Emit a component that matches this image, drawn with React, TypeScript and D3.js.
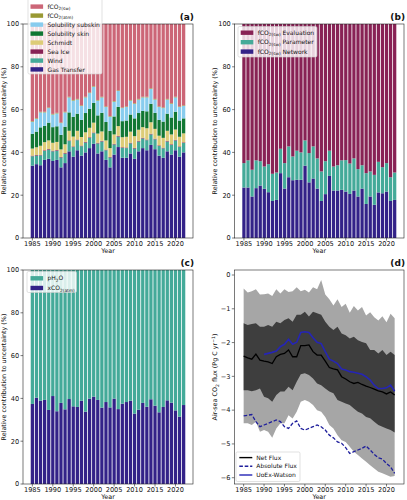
import React from "react";
import * as d3 from "d3";

// ---------- categories ----------
const years = [1985,1986,1987,1988,1989,1990,1991,1992,1993,1994,1995,1996,1997,1998,1999,2000,2001,2002,2003,2004,2005,2006,2007,2008,2009,2010,2011,2012,2013,2014,2015,2016,2017,2018,2019,2020,2021,2022];
const uoexYears = [1990,1991,1992,1993,1994,1995,1996,1997,1998,1999,2000,2001,2002,2003,2004,2005,2006,2007,2008,2009,2010,2011,2012,2013,2014,2015,2016,2017,2018,2019,2020,2021,2022];
const xTicks = [1985,1990,1995,2000,2005,2010,2015,2020];
const pctTicks = [0,20,40,60,80,100];
const fluxTicks = [0,-1,-2,-3,-4,-5,-6];

// ---------- panel (a) ----------
const gasTransfer = [33.8,34.5,34.0,36.5,37.0,36.0,36.5,33.0,35.0,40.5,38.0,41.0,38.5,40.0,42.0,44.0,39.5,40.5,36.5,33.0,39.0,42.5,37.5,37.5,39.5,37.0,40.5,42.0,41.0,43.5,41.5,38.5,37.5,40.5,39.0,41.0,38.0,40.0];
const wind = [4.4,4.0,4.6,4.2,4.3,4.5,4.3,4.6,4.4,4.8,4.5,4.7,4.4,4.6,4.8,5.0,4.7,4.6,4.5,4.6,4.7,4.9,4.6,4.5,4.7,4.8,4.6,4.5,4.7,4.9,4.6,4.5,4.4,4.6,4.5,4.6,4.5,4.4];
const seaIce = [0.3,0.3,0.3,0.3,0.3,0.3,0.3,0.3,0.3,0.3,0.3,0.3,0.3,0.3,0.3,0.3,0.3,0.3,0.3,0.3,0.3,0.3,0.3,0.3,0.3,0.3,0.3,0.3,0.3,0.3,0.3,0.3,0.3,0.3,0.3,0.3,0.3,0.3];
const schmidt = [3.3,3.6,4.2,3.8,4.0,3.7,3.8,3.5,4.1,4.5,4.6,4.1,4.0,4.5,4.4,4.6,4.3,4.4,4.3,4.1,4.4,4.6,4.7,5.0,5.2,5.5,5.2,5.0,5.3,5.4,4.6,4.5,4.6,4.7,4.6,4.8,4.5,4.2];
const solSkin = [6.9,7.3,8.6,7.6,8.3,7.3,7.3,6.8,8.2,8.6,9.2,8.0,8.0,9.0,8.9,9.2,8.5,8.7,8.6,8.1,8.4,9.0,7.5,7.6,8.0,8.3,7.8,7.6,7.9,8.6,7.5,7.4,7.6,8.0,7.9,8.3,7.6,7.0];
const solSubskin = [5.6,6.0,7.0,6.3,6.8,5.9,6.0,5.5,6.7,7.0,7.6,6.6,6.5,7.3,7.3,7.6,6.9,7.2,7.0,6.6,6.9,7.4,6.1,6.3,6.5,6.8,6.3,6.3,6.5,7.0,6.2,6.0,6.3,6.6,6.4,6.7,6.3,5.8];
const fco2Atm = [0.3,0.3,0.3,0.3,0.3,0.3,0.3,0.3,0.3,0.3,0.3,0.3,0.3,0.3,0.3,0.3,0.3,0.3,0.3,0.3,0.3,0.3,0.3,0.3,0.3,0.3,0.3,0.3,0.3,0.3,0.3,0.3,0.3,0.3,0.3,0.3,0.3,0.3];
const fco2Sw = [45.4,44.0,41.0,41.0,39.0,42.0,41.5,46.0,41.0,34.0,35.5,35.0,38.0,34.0,32.0,29.0,35.5,34.0,38.5,43.0,36.0,31.0,39.0,38.5,35.5,37.0,35.0,34.0,34.0,30.0,35.0,38.5,39.0,35.0,37.0,34.0,38.5,38.0];

// ---------- panel (b) ----------
const network = [23.6,23.6,19.4,23.3,24.5,23.0,21.4,17.3,17.8,30.3,23.1,28.4,27.0,27.2,27.2,33.8,26.0,27.8,23.1,17.3,20.5,29.0,22.2,22.2,22.5,21.7,20.6,22.2,19.4,23.1,15.9,19.4,15.5,21.3,20.9,21.7,17.3,17.8];
const parameter = [11.4,12.7,12.5,13.0,11.4,10.4,13.1,12.7,12.8,11.4,11.9,14.4,11.1,13.6,12.8,11.8,13.7,15.0,14.1,13.8,15.4,11.8,11.2,11.8,13.8,14.7,14.2,15.0,12.8,10.9,14.4,11.7,14.0,14.3,12.2,13.3,11.1,12.8];
const evaluation = [65.0,63.7,68.1,63.7,64.1,66.6,65.5,70.0,69.4,58.3,65.0,57.2,61.9,59.2,60.0,54.4,60.3,57.2,62.8,68.9,64.1,59.2,66.6,66.0,63.7,63.6,65.2,62.8,67.8,66.0,69.7,68.9,70.5,64.4,66.9,65.0,71.6,69.4];

// ---------- panel (c) ----------
const xco2Atm = [37.4,40.3,38.9,39.3,34.6,41.1,34.0,37.9,34.9,39.7,36.3,36.0,38.9,33.8,39.9,40.8,39.3,35.7,38.3,35.8,39.9,35.0,37.5,38.3,38.9,32.9,34.7,37.9,36.1,39.6,36.6,33.5,36.0,39.1,38.0,34.4,31.5,36.9];
const ph2o = [62.6,59.7,61.1,60.7,65.4,58.9,66.0,62.1,65.1,60.3,63.7,64.0,61.1,66.2,60.1,59.2,60.7,64.3,61.7,64.2,60.1,65.0,62.5,61.7,61.1,67.1,65.3,62.1,63.9,60.4,63.4,66.5,64.0,60.9,62.0,65.6,68.5,63.1];

// ---------- panel (d) ----------
const netFlux = [-2.40,-2.45,-2.49,-2.34,-2.52,-2.55,-2.57,-2.62,-2.42,-2.35,-2.32,-2.22,-2.42,-2.42,-2.09,-2.09,-2.07,-2.27,-2.37,-2.37,-2.55,-2.74,-2.78,-2.81,-3.01,-3.08,-3.16,-3.21,-3.18,-3.24,-3.29,-3.33,-3.38,-3.43,-3.46,-3.52,-3.46,-3.55];
const absoluteFlux = [-4.17,-4.15,-4.13,-4.34,-4.49,-4.44,-4.39,-4.34,-4.29,-4.34,-4.49,-4.54,-4.39,-4.32,-4.54,-4.59,-4.54,-4.49,-4.44,-4.49,-4.59,-4.74,-4.82,-4.94,-4.98,-5.11,-5.28,-5.23,-5.18,-5.13,-5.06,-5.18,-5.31,-5.41,-5.45,-5.58,-5.68,-5.87];
const uoexWatson = [-2.35,-2.32,-2.29,-2.25,-2.12,-2.05,-1.90,-2.05,-1.99,-1.70,-1.68,-1.70,-1.86,-1.99,-2.03,-2.27,-2.49,-2.55,-2.62,-2.78,-2.81,-2.86,-2.88,-2.91,-2.94,-3.01,-3.11,-3.26,-3.36,-3.36,-3.34,-3.26,-3.44];
const outerUpper = [-0.40,-0.52,-0.48,-0.42,-0.58,-0.57,-0.55,-0.62,-0.42,-0.55,-0.42,-0.50,-0.48,-0.36,-0.48,-0.44,-0.52,-0.36,-0.42,-0.15,-0.58,-0.72,-0.90,-0.72,-0.95,-0.85,-1.12,-0.92,-1.05,-0.95,-1.20,-1.10,-1.25,-1.35,-1.22,-1.40,-1.15,-1.28];
const innerUpper = [-1.43,-1.48,-1.45,-1.43,-1.53,-1.53,-1.48,-1.53,-1.38,-1.43,-1.33,-1.28,-1.38,-1.18,-1.18,-1.09,-1.23,-1.09,-1.13,-1.18,-1.38,-1.53,-1.63,-1.53,-1.73,-1.78,-1.88,-1.83,-1.93,-1.98,-2.02,-2.22,-2.22,-2.32,-2.22,-2.37,-2.27,-2.37];
const innerLower = [-3.41,-3.41,-3.44,-3.41,-3.36,-3.60,-3.65,-3.75,-3.55,-3.45,-3.45,-3.31,-3.41,-3.16,-2.94,-2.91,-2.96,-3.06,-3.21,-3.26,-3.36,-3.45,-3.50,-3.70,-3.75,-3.80,-3.85,-3.95,-4.05,-4.10,-4.20,-4.24,-4.34,-4.44,-4.49,-4.54,-4.59,-4.66];
const outerLower = [-4.39,-4.39,-4.44,-4.34,-4.64,-4.59,-4.64,-4.82,-4.54,-4.39,-4.39,-4.15,-4.25,-4.05,-3.75,-3.70,-3.75,-3.85,-4.00,-4.05,-4.20,-4.44,-4.54,-4.74,-4.89,-4.94,-5.08,-5.23,-5.33,-5.43,-5.53,-5.63,-5.73,-5.82,-5.87,-5.92,-5.97,-5.95];

// ---------- styling ----------
const FONT = "DejaVu Sans, sans-serif";
const C = {
  indigo: "#332288", teal: "#44aa99", wine: "#882255", sand: "#ddcc77",
  green: "#117733", cyan: "#88ccee", olive: "#999933", rose: "#cc6677",
};
const TICK_FS = 6.6, LABEL_FS = 6.4, LEG_FS = 6.0;

const Sub = ({ base, sub, after, fs = LEG_FS }: any) => (
  <>
    {base}
    <tspan dy={fs * 0.28} fontSize={fs * 0.72}>{sub}</tspan>
    {after != null && <tspan dy={-fs * 0.28}>{after}</tspan>}
  </>
);

function Frame({ L, R, T, B, x, y, yTicks, yFmt, ylabel, title }: any) {
  const cy = (T + B) / 2;
  return (
    <g>
      <rect x={L} y={T} width={R - L} height={B - T} fill="none" stroke="#222" strokeWidth={0.6} />
      {xTicks.map((t) => (
        <g key={"x" + t}>
          <line x1={x(t)} x2={x(t)} y1={B} y2={B + 2.5} stroke="#222" strokeWidth={0.6} />
          <text x={x(t)} y={B + 8.3} fontSize={TICK_FS} textAnchor="middle" fill="#111">{t}</text>
        </g>
      ))}
      {yTicks.map((t: number) => (
        <g key={"y" + t}>
          <line x1={L - 2.5} x2={L} y1={y(t)} y2={y(t)} stroke="#222" strokeWidth={0.6} />
          <text x={L - 3.8} y={y(t) + 2.3} fontSize={TICK_FS} textAnchor="end" fill="#111">{yFmt(t)}</text>
        </g>
      ))}
      <text x={(L + R) / 2} y={B + 15} fontSize={LABEL_FS} textAnchor="middle" fill="#111">Year</text>
      <text transform={`translate(${L - 17.3},${cy}) rotate(-90)`} fontSize={LABEL_FS} textAnchor="middle" fill="#111">{ylabel}</text>
      <text x={R + 1} y={T - 4.3} fontSize={9} fontWeight="bold" textAnchor="end" fill="#111">{title}</text>
    </g>
  );
}

function Legend({ x0, y0, w, h, items, rowY, hx }: any) {
  return (
    <g>
      <rect x={x0} y={y0} width={w} height={h} rx={1.5} fill="white" fillOpacity={0.8} stroke="#cccccc" strokeWidth={0.6} />
      {items.map((it: any, i: number) => (
        <g key={i}>
          {it.type === "line" ? (
            <line x1={hx} x2={hx + 13} y1={rowY[i]} y2={rowY[i]} stroke={it.color} strokeWidth={it.width || 1.4} strokeDasharray={it.dash || null} />
          ) : (
            <rect x={hx} y={rowY[i] - 2.2} width={12.6} height={4.4} fill={it.color} />
          )}
          <text x={hx + 17} y={rowY[i] + 2.1} fontSize={LEG_FS} fill="#111">{it.label}</text>
        </g>
      ))}
    </g>
  );
}

function StackBars({ x, y, keys, columns, colors }: any) {
  const table = years.map((yr, i) => {
    const row: any = { year: yr };
    keys.forEach((k: string, j: number) => (row[k] = columns[j][i]));
    return row;
  });
  const series = d3.stack().keys(keys)(table);
  return (
    <g>
      {series.map((s: any, j: number) => (
        <g key={keys[j]} fill={colors[j]}>
          {s.map((d: any, i: number) => {
            const yr = years[i];
            const y0 = y(Math.min(d[1], 100));
            const y1 = y(d[0]);
            return <rect key={i} x={x(yr - 0.4)} width={x(yr + 0.4) - x(yr - 0.4)} y={y0} height={Math.max(0, y1 - y0)} />;
          })}
        </g>
      ))}
    </g>
  );
}

export default function App() {
  const XD = [1982.71, 2024.29];
  // panel (a)
  const aL = 23, aR = 193, aT = 24, aB = 238;
  const xa = d3.scaleLinear().domain(XD).range([aL, aR]);
  const ya = d3.scaleLinear().domain([0, 100]).range([aB, aT]);
  // panel (b)
  const bL = 234.6, bR = 404, bT = 24, bB = 238;
  const xb = d3.scaleLinear().domain(XD).range([bL, bR]);
  const yb = d3.scaleLinear().domain([0, 100]).range([bB, bT]);
  // panel (c)
  const cL = 23, cR = 193, cT = 270, cB = 484;
  const xc = d3.scaleLinear().domain(XD).range([cL, cR]);
  const yc = d3.scaleLinear().domain([0, 100]).range([cB, cT]);
  // panel (d)
  const dL = 234.3, dR = 404, dT = 270, dB = 484;
  const xd = d3.scaleLinear().domain(XD).range([dL, dR]);
  const yd = d3.scaleLinear().domain([-6.186, 0.148]).range([dB, dT]);

  const pctFmt = (v: number) => String(v);
  const fluxFmt = (v: number) => (v === 0 ? "0" : "\u2212" + Math.abs(v));

  const outerArea = d3.area<number>().x((_, i) => xd(years[i])).y0((_, i) => yd(outerLower[i])).y1((_, i) => yd(outerUpper[i]));
  const innerArea = d3.area<number>().x((_, i) => xd(years[i])).y0((_, i) => yd(innerLower[i])).y1((_, i) => yd(innerUpper[i]));
  const lineAll = d3.line<number>().x((_, i) => xd(years[i])).y((v) => yd(v));
  const lineUoex = d3.line<number>().x((_, i) => xd(uoexYears[i])).y((v) => yd(v));

  const relLabel = "Relative contribution to uncertainty (%)";

  return (
    <svg width={407} height={500} style={{ position: "absolute", left: 0, top: 0, background: "white" }} fontFamily={FONT}>
      <rect width={407} height={500} fill="white" />

      {/* (a) */}
      <StackBars x={xa} y={ya}
        keys={["gt", "wind", "ice", "sch", "skin", "sub", "atm", "sw"]}
        columns={[gasTransfer, wind, seaIce, schmidt, solSkin, solSubskin, fco2Atm, fco2Sw]}
        colors={[C.indigo, C.teal, C.wine, C.sand, C.green, C.cyan, C.olive, C.rose]} />
      <Frame L={aL} R={aR} T={aT} B={aB} x={xa} y={ya} yTicks={pctTicks} yFmt={pctFmt} ylabel={relLabel} title="(a)" />
      <Legend x0={28} y0={-3} w={74} h={77} hx={30.5} rowY={[6.6, 15.6, 24.6, 33.6, 42.6, 51.6, 60.6, 69.4]}
        items={[
          { color: C.rose, label: <Sub base="fCO" sub="2(sw)" /> },
          { color: C.olive, label: <Sub base="fCO" sub="2(atm)" /> },
          { color: C.cyan, label: "Solubility subskin" },
          { color: C.green, label: "Solubility skin" },
          { color: C.sand, label: "Schmidt" },
          { color: C.wine, label: "Sea Ice" },
          { color: C.teal, label: "Wind" },
          { color: C.indigo, label: "Gas Transfer" },
        ]} />

      {/* (b) */}
      <StackBars x={xb} y={yb} keys={["net", "par", "eval"]} columns={[network, parameter, evaluation]} colors={[C.indigo, C.teal, C.wine]} />
      <Frame L={bL} R={bR} T={bT} B={bB} x={xb} y={yb} yTicks={pctTicks} yFmt={pctFmt} ylabel={relLabel} title="(b)" />
      <Legend x0={238} y0={26.5} w={79} h={30.5} hx={240.7} rowY={[32.7, 42.2, 51.6]}
        items={[
          { color: C.wine, label: <Sub base="fCO" sub="2(sw)" after=" Evaluation" /> },
          { color: C.teal, label: <Sub base="fCO" sub="2(sw)" after=" Parameter" /> },
          { color: C.indigo, label: <Sub base="fCO" sub="2(sw)" after=" Network" /> },
        ]} />

      {/* (c) */}
      <StackBars x={xc} y={yc} keys={["xco2", "ph2o"]} columns={[xco2Atm, ph2o]} colors={[C.indigo, C.teal]} />
      <Frame L={cL} R={cR} T={cT} B={cB} x={xc} y={yc} yTicks={pctTicks} yFmt={pctFmt} ylabel={relLabel} title="(c)" />
      <Legend x0={27} y0={271.5} w={49.5} h={21} hx={30.5} rowY={[278.3, 288.0]}
        items={[
          { color: C.teal, label: <Sub base="pH" sub="2" after="O" /> },
          { color: C.indigo, label: <Sub base="xCO" sub="2(atm)" /> },
        ]} />

      {/* (d) */}
      <path d={outerArea(years) || ""} fill="#a6a6a6" />
      <path d={innerArea(years) || ""} fill="#3e3e3e" />
      <path d={lineAll(netFlux) || ""} fill="none" stroke="#000" strokeWidth={1.3} />
      <path d={lineUoex(uoexWatson) || ""} fill="none" stroke="#2525b5" strokeWidth={1.6} />
      <path d={lineAll(absoluteFlux) || ""} fill="none" stroke="#1f1f9c" strokeWidth={1.3} strokeDasharray="3.6,1.8" />
      <Frame L={dL} R={dR} T={dT} B={dB} x={xd} y={yd} yTicks={fluxTicks} yFmt={fluxFmt}
        ylabel={<>Air-sea CO<tspan dy={1.8} fontSize={4.6}>2</tspan><tspan dy={-1.8}> flux (Pg C yr</tspan><tspan dy={-2.4} fontSize={4.6}>{"\u22121"}</tspan><tspan dy={2.4}>)</tspan></>}
        title="(d)" />
      <Legend x0={236} y0={452} w={64} h={29.5} hx={239.3} rowY={[457.6, 466.3, 475.0]}
        items={[
          { type: "line", color: "#000", label: "Net Flux", width: 1.4 },
          { type: "line", color: "#1f1f9c", label: "Absolute Flux", dash: "3.6,1.8", width: 1.4 },
          { type: "line", color: "#2525b5", label: "UoEx-Watson", width: 1.4 },
        ]} />
    </svg>
  );
}
